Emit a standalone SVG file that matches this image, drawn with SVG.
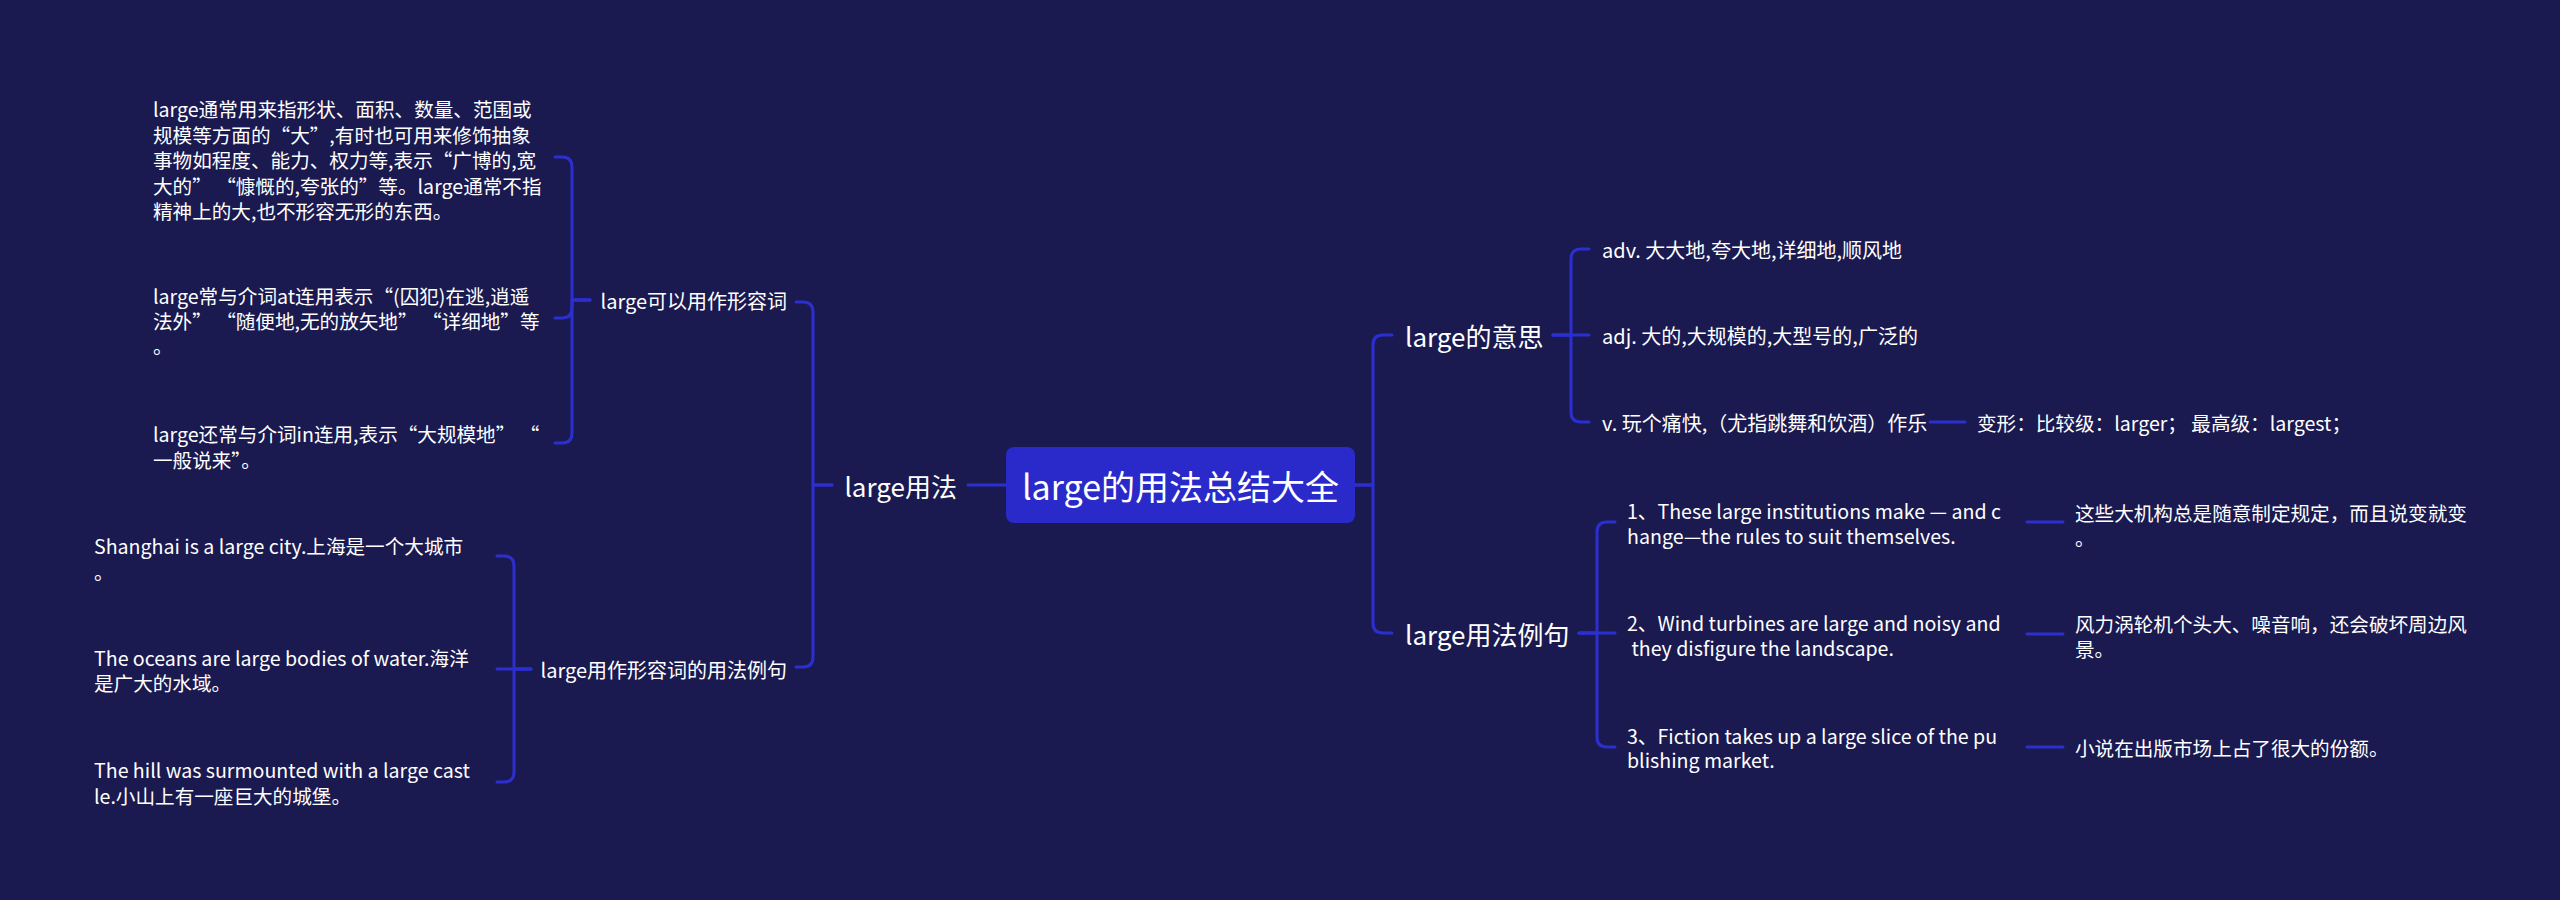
<svg xmlns="http://www.w3.org/2000/svg" width="2560" height="900" viewBox="0 0 2560 900">
<style>
text{font-family:"Noto Sans CJK SC","Noto Sans",sans-serif;fill:#ffffff;dominant-baseline:central}
.root{font-size:34px}
.l1{font-size:26px}
.l2{font-size:20px}
.lf{font-size:19.6px}
.end{text-anchor:end}
.conn path{fill:none;stroke:#2c2fcf;stroke-width:3;stroke-linecap:round;stroke-linejoin:round}
</style>
<rect x="0" y="0" width="2560" height="900" fill="#1a1a50"/>
<g class="conn" id="connectors">
<path d="M1006 485 H968"/>
<path d="M832 485 H813 V312 Q813 302 803 302 H796"/>
<path d="M832 485 H813 V657 Q813 667 803 667 H796"/>
<path d="M590 300 H572 V167 Q572 157 562 157 H555"/>
<path d="M590 300 H572 V308 Q572 318 562 318 H555"/>
<path d="M590 300 H572 V433 Q572 443 562 443 H555"/>
<path d="M531 669 H514 V566 Q514 556 504 556 H497"/>
<path d="M531 669 H497"/>
<path d="M531 669 H514 V772 Q514 782 504 782 H497"/>
<path d="M1355 485 H1373 V345 Q1373 335 1383 335 H1392"/>
<path d="M1355 485 H1373 V623 Q1373 633 1383 633 H1392"/>
<path d="M1553 335 H1571 V259 Q1571 249 1581 249 H1589"/>
<path d="M1553 335 H1589"/>
<path d="M1553 335 H1571 V412 Q1571 422 1581 422 H1589"/>
<path d="M1930 422 H1965"/>
<path d="M1579 633 H1597 V532 Q1597 522 1607 522 H1615"/>
<path d="M1579 633 H1615"/>
<path d="M1579 633 H1597 V737 Q1597 747 1607 747 H1615"/>
<path d="M2027 522 H2063"/>
<path d="M2027 634 H2063"/>
<path d="M2027 747 H2063"/>
</g>
<g id="root">
<rect x="1006" y="447" width="349" height="76" rx="8" fill="#2a2acb"/>
<text class="root" x="1180.5" y="485" text-anchor="middle">large的用法总结大全</text>
</g>
<g id="n-usage"><text class="l1 end" x="957" y="485">large用法</text></g>
<g id="n-adj"><text class="l2 end" x="787" y="300">large可以用作形容词</text></g>
<g id="n-adj-1"><text class="lf"><tspan x="153" y="108">large通常用来指形状、面积、数量、范围或</tspan><tspan x="153" y="133.5">规模等方面的“大”,有时也可用来修饰抽象</tspan><tspan x="153" y="159">事物如程度、能力、权力等,表示“广博的,宽</tspan><tspan x="153" y="184.5">大的” “慷慨的,夸张的”等。large通常不指</tspan><tspan x="153" y="210">精神上的大,也不形容无形的东西。</tspan></text></g>
<g id="n-adj-2"><text class="lf"><tspan x="153" y="295">large常与介词at连用表示“(囚犯)在逃,逍遥</tspan><tspan x="153" y="320">法外” “随便地,无的放矢地” “详细地”等</tspan><tspan x="153" y="345">。</tspan></text></g>
<g id="n-adj-3"><text class="lf"><tspan x="153" y="433">large还常与介词in连用,表示“大规模地” “</tspan><tspan x="153" y="459">一般说来”。</tspan></text></g>
<g id="n-adj-ex"><text class="l2 end" x="787" y="669">large用作形容词的用法例句</text></g>
<g id="n-ex-1"><text class="lf"><tspan x="94" y="545">Shanghai is a large city.上海是一个大城市</tspan><tspan x="94" y="571">。</tspan></text></g>
<g id="n-ex-2"><text class="lf"><tspan x="94" y="657">The oceans are large bodies of water.海洋</tspan><tspan x="94" y="682">是广大的水域。</tspan></text></g>
<g id="n-ex-3"><text class="lf"><tspan x="94" y="769">The hill was surmounted with a large cast</tspan><tspan x="94" y="795">le.小山上有一座巨大的城堡。</tspan></text></g>
<g id="n-meaning"><text class="l1" x="1405" y="335">large的意思</text></g>
<g id="n-adv"><text class="l2" x="1602" y="249">adv. 大大地,夸大地,详细地,顺风地</text></g>
<g id="n-adjm"><text class="l2" x="1602" y="335">adj. 大的,大规模的,大型号的,广泛的</text></g>
<g id="n-v"><text class="l2" x="1602" y="422">v. 玩个痛快,（尤指跳舞和饮酒）作乐</text></g>
<g id="n-forms"><text class="lf" x="1977" y="422">变形：比较级：larger； 最高级：largest；</text></g>
<g id="n-examples"><text class="l1" x="1405" y="633">large用法例句</text></g>
<g id="n-s1"><text class="lf"><tspan x="1627" y="510">1、These large institutions make — and c</tspan><tspan x="1627" y="535">hange—the rules to suit themselves.</tspan></text></g>
<g id="n-s2"><text class="lf"><tspan x="1627" y="622">2、Wind turbines are large and noisy and</tspan><tspan x="1627" y="647" xml:space="preserve"> they disfigure the landscape.</tspan></text></g>
<g id="n-s3"><text class="lf"><tspan x="1627" y="735">3、Fiction takes up a large slice of the pu</tspan><tspan x="1627" y="759">blishing market.</tspan></text></g>
<g id="n-t1"><text class="lf"><tspan x="2075" y="512">这些大机构总是随意制定规定，而且说变就变</tspan><tspan x="2075" y="537">。</tspan></text></g>
<g id="n-t2"><text class="lf"><tspan x="2075" y="623">风力涡轮机个头大、噪音响，还会破坏周边风</tspan><tspan x="2075" y="648">景。</tspan></text></g>
<g id="n-t3"><text class="lf" x="2075" y="747">小说在出版市场上占了很大的份额。</text></g>
</svg>
